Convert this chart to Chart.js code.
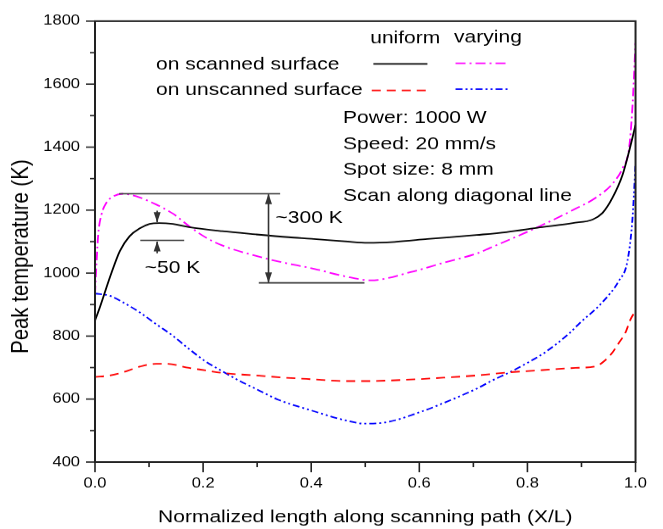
<!DOCTYPE html>
<html><head><meta charset="utf-8">
<script src="https://cdn.jsdelivr.net/npm/chart.js@4.4.1/dist/chart.umd.min.js"></script>
<style>
html,body{margin:0;padding:0;background:#fff;overflow:hidden;}
#wrap{width:663px;height:529px;overflow:hidden;position:relative;}
#c{position:absolute;left:0;top:0;transform-origin:0 0;transform:scaleY(0.84776);}
</style></head><body>
<div id="wrap"><canvas id="c" width="663" height="624"></canvas></div>
<script>
// ---------------- data ----------------
const xTicksLabelStep = 0.2;
const yTicksLabelStep = 200;

const xUniformScanned = [0, 0.009, 0.0275, 0.046, 0.064, 0.083, 0.101, 0.119, 0.144, 0.174, 0.235, 0.297, 0.358, 0.4, 0.462, 0.505, 0.554, 0.615, 0.706, 0.761, 0.823, 0.884, 0.9205, 0.939, 0.957, 0.976, 0.988, 1.0];
const tUniformScanned = [849, 891, 986, 1070, 1117, 1142, 1156, 1159, 1156, 1146, 1133, 1123, 1114, 1109, 1101, 1096, 1099, 1108, 1121, 1130, 1145, 1159, 1170, 1191, 1238, 1312, 1386, 1470];

const xVaryingScanned = [0, 0.003, 0.006, 0.012, 0.021, 0.034, 0.052, 0.076, 0.113, 0.144, 0.174, 0.205, 0.235, 0.297, 0.339, 0.407, 0.462, 0.51, 0.584, 0.645, 0.706, 0.731, 0.792, 0.823, 0.884, 0.927, 0.957, 0.976, 0.988, 0.994, 1.0];
const tVaryingScanned = [933, 1038, 1123, 1186, 1223, 1244, 1252, 1244, 1218, 1189, 1149, 1113, 1088, 1055, 1037, 1013, 990, 977, 1003, 1033, 1062, 1080, 1125, 1149, 1200, 1240, 1283, 1333, 1396, 1520, 1730];

const xUniformUnscanned = [0, 0.0275, 0.052, 0.083, 0.113, 0.131, 0.174, 0.205, 0.235, 0.297, 0.352, 0.4, 0.462, 0.4985, 0.584, 0.645, 0.706, 0.767, 0.828, 0.889, 0.926, 0.938, 0.957, 0.969, 0.981, 0.991, 1.0];
const tUniformUnscanned = [670, 675, 685, 703, 712, 712, 699, 691, 683, 675, 668, 663, 657, 657, 662, 668, 675, 685, 692, 699, 704, 715, 747, 778, 810, 854, 880];

const xVaryingUnscanned = [0, 0.0275, 0.052, 0.083, 0.113, 0.144, 0.174, 0.205, 0.235, 0.266, 0.297, 0.339, 0.4, 0.462, 0.4985, 0.541, 0.602, 0.664, 0.706, 0.736, 0.767, 0.798, 0.834, 0.877, 0.896, 0.939, 0.969, 0.985, 0.994, 1.0];
const tVaryingUnscanned = [935, 928, 907, 875, 838, 801, 759, 719, 689, 659, 633, 598, 564, 533, 522, 527, 559, 601, 633, 660, 685, 713, 750, 808, 840, 908, 975, 1038, 1165, 1344];

const columnHeaders = ['uniform', 'varying'];
const rowLabels = ['on scanned surface', 'on unscanned surface'];
const infoLines = ['Power: 1000 W', 'Speed: 20 mm/s', 'Spot size: 8 mm', 'Scan along diagonal line'];
const bigDiffLabel = '~300 K';
const smallDiffLabel = '~50 K';
const xTitle = 'Normalized length along scanning path (X/L)';
const yTitle = 'Peak temperature (K)';

// ---------------- styling ----------------
const FONT = "'Liberation Sans', Arial, Helvetica, sans-serif";
Chart.defaults.font.family = FONT;
Chart.defaults.color = '#000';

const DASH_RED = [9, 6];
const DASH_MAG = [10, 4, 2, 4];
const DASH_BLUE = [7, 3, 2, 3, 2, 3];

const pts = (xs, ys) => xs.map((x, i) => ({x: x, y: ys[i]}));

const series = [
  {label: 'uniform, on scanned surface', data: pts(xUniformScanned, tUniformScanned), borderColor: '#000000', borderDash: []},
  {label: 'varying, on scanned surface', data: pts(xVaryingScanned, tVaryingScanned), borderColor: '#ff00ff', borderDash: DASH_MAG},
  {label: 'uniform, on unscanned surface', data: pts(xUniformUnscanned, tUniformUnscanned), borderColor: '#ff0000', borderDash: DASH_RED},
  {label: 'varying, on unscanned surface', data: pts(xVaryingUnscanned, tVaryingUnscanned), borderColor: '#0000ff', borderDash: DASH_BLUE}
].map(d => Object.assign(d, {borderWidth: 1.8, pointRadius: 0, fill: false, cubicInterpolationMode: 'monotone'}));

// ---------------- frame, ticks, y title, legend and annotations ----------------
const overlay = {
  id: 'overlay',
  afterDraw(chart) {
    const ctx = chart.ctx, xs = chart.scales.x, ys = chart.scales.y, a = chart.chartArea;
    const X = v => xs.getPixelForValue(v), Y = v => ys.getPixelForValue(v);
    ctx.save();
    // frame
    ctx.strokeStyle = '#222'; ctx.lineWidth = 2; ctx.setLineDash([]);
    ctx.strokeRect(a.left, a.top, a.right - a.left, a.bottom - a.top);
    // y ticks
    ctx.lineWidth = 1.6;
    for (let v = 400; v <= 1800; v += 100) {
      const len = (v % 200 === 0) ? 9 : 5;
      ctx.beginPath(); ctx.moveTo(a.left - len, Y(v)); ctx.lineTo(a.left, Y(v)); ctx.stroke();
    }
    // x ticks
    for (let i = 0; i <= 10; i++) {
      const v = i / 10, len = (i % 2 === 0) ? 12 : 6;
      ctx.beginPath(); ctx.moveTo(X(v), a.bottom); ctx.lineTo(X(v), a.bottom + len); ctx.stroke();
    }
    // y axis title (sits a little below the plot centre in the reference)
    ctx.save();
    ctx.font = '24px ' + FONT; ctx.fillStyle = '#000';
    ctx.textAlign = 'center'; ctx.textBaseline = 'middle';
    ctx.translate(21, a.top + (a.bottom - a.top) * 0.534);
    ctx.rotate(-Math.PI / 2);
    ctx.fillText(yTitle, 0, 0);
    ctx.restore();
    // legend
    ctx.font = '21px ' + FONT; ctx.fillStyle = '#000'; ctx.textBaseline = 'middle';
    ctx.textAlign = 'center';
    ctx.fillText(columnHeaders[0], X(0.574), Y(1745));
    ctx.fillText(columnHeaders[1], X(0.727), Y(1747));
    ctx.textAlign = 'left';
    ctx.fillText(rowLabels[0], X(0.113), Y(1663));
    ctx.fillText(rowLabels[1], X(0.113), Y(1580));
    const sample = (x0, x1, t, color, dash) => {
      ctx.strokeStyle = color; ctx.lineWidth = 1.8; ctx.setLineDash(dash);
      ctx.beginPath(); ctx.moveTo(X(x0), Y(t)); ctx.lineTo(X(x1), Y(t)); ctx.stroke();
    };
    sample(0.515, 0.615, 1664, series[0].borderColor, []);
    sample(0.667, 0.765, 1666, series[1].borderColor, DASH_MAG);
    sample(0.512, 0.612, 1580, series[2].borderColor, DASH_RED);
    sample(0.667, 0.765, 1584, series[3].borderColor, DASH_BLUE);
    ctx.setLineDash([]);
    // info text
    const infoT = [1491, 1408, 1328, 1246];
    infoLines.forEach((s, i) => ctx.fillText(s, X(0.459), Y(infoT[i])));
    // annotation lines
    ctx.strokeStyle = '#333'; ctx.lineWidth = 1.6;
    const hline = (x0, x1, t) => { ctx.beginPath(); ctx.moveTo(X(x0), Y(t)); ctx.lineTo(X(x1), Y(t)); ctx.stroke(); };
    const vline = (x, t0, t1) => { ctx.beginPath(); ctx.moveTo(X(x), Y(t0)); ctx.lineTo(X(x), Y(t1)); ctx.stroke(); };
    const head = (x, t, dir) => { // dir: -1 pointing up, +1 pointing down
      const px = X(x), py = Y(t);
      ctx.fillStyle = '#333';
      ctx.beginPath(); ctx.moveTo(px, py); ctx.lineTo(px - 3.5, py - dir * 12); ctx.lineTo(px + 3.5, py - dir * 12); ctx.closePath(); ctx.fill();
    };
    hline(0.0446, 0.3425, 1252);
    hline(0.303, 0.4985, 969);
    vline(0.321, 1250, 971);
    head(0.321, 1251, -1);
    head(0.321, 970, 1);
    hline(0.0838, 0.165, 1104);
    vline(0.115, 1198, 1162);
    head(0.115, 1161, 1);
    vline(0.115, 1063, 1100);
    head(0.115, 1101, -1);
    ctx.fillStyle = '#000';
    ctx.fillText(bigDiffLabel, X(0.334), Y(1176));
    ctx.fillText(smallDiffLabel, X(0.092), Y(1017));
    ctx.restore();
  }
};

new Chart(document.getElementById('c'), {
  type: 'line',
  data: {datasets: series},
  options: {
    responsive: false,
    animation: false,
    devicePixelRatio: 1,
    layout: {padding: {left: 0, right: 23, top: 22, bottom: 0}},
    plugins: {legend: {display: false}, tooltip: {enabled: false}},
    scales: {
      x: {
        type: 'linear', min: 0, max: 1,
        ticks: {stepSize: xTicksLabelStep, callback: v => Number(v).toFixed(1), font: {size: 16.5}, padding: 16, maxRotation: 0, autoSkip: false, color: '#000'},
        grid: {display: false, drawTicks: false},
        border: {display: false},
        title: {display: true, text: xTitle, font: {size: 21}, color: '#000', padding: {top: 0, bottom: 1.4}},
        afterFit: s => { s.height = 79; }
      },
      y: {
        type: 'linear', min: 400, max: 1800,
        ticks: {stepSize: yTicksLabelStep, callback: v => String(Math.round(v)), font: {size: 16.5}, padding: 15, color: '#000'},
        grid: {display: false, drawTicks: false},
        border: {display: false},
        title: {display: false, text: yTitle},
        afterFit: s => { s.width = 95; }
      }
    }
  },
  plugins: [overlay]
});
</script>
</body></html>
